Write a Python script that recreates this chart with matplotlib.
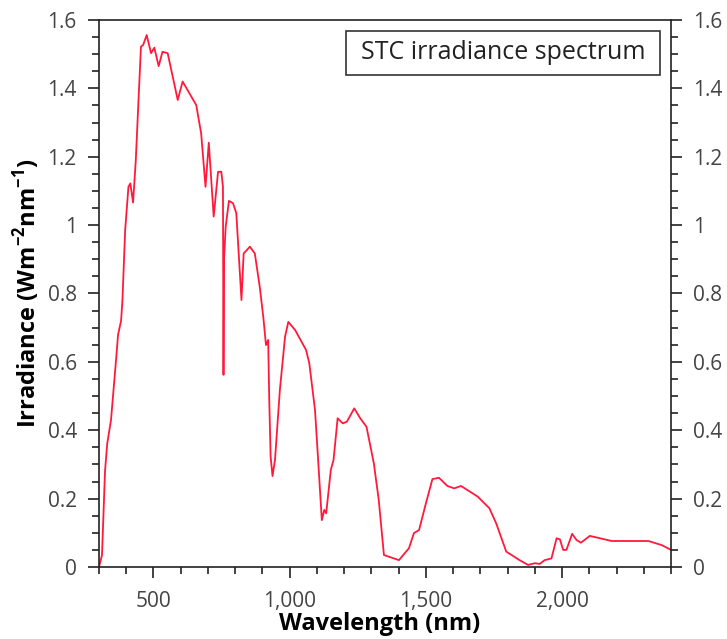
import matplotlib

matplotlib.use("Agg")
import matplotlib.pyplot as plt
from matplotlib.patches import Rectangle
from matplotlib.ticker import FuncFormatter, MultipleLocator

# STC irradiance spectrum
wavelength_nm = [
    300, 311, 322, 330, 344, 363, 370, 381, 386, 396, 408, 415, 425, 435,
    445, 454, 462, 475, 491, 503, 519, 533, 552, 589, 607, 657, 675, 691,
    703, 721, 737, 749, 755, 757, 759, 765, 777, 792, 804, 823, 831, 854,
    872, 890, 903, 913, 921, 925, 930, 937, 946, 964, 983, 995, 1020, 1060,
    1072, 1093, 1106, 1118, 1127, 1134, 1151, 1161, 1176, 1195, 1210, 1237,
    1259, 1282, 1309, 1327, 1346, 1401, 1438, 1456, 1475, 1500, 1524, 1548,
    1579, 1604, 1629, 1690, 1733, 1758, 1795, 1844, 1875, 1900, 1918, 1936,
    1961, 1980, 1992, 2004, 2016, 2037, 2053, 2069, 2102, 2182, 2317, 2366,
    2400,
]
irradiance = [
    0.0, 0.035, 0.28, 0.36, 0.43, 0.61, 0.68, 0.72, 0.78, 0.986, 1.112,
    1.122, 1.066, 1.19, 1.366, 1.522, 1.527, 1.556, 1.503, 1.519, 1.465,
    1.507, 1.503, 1.366, 1.42, 1.351, 1.268, 1.112, 1.241, 1.025, 1.156,
    1.156, 1.112, 0.562, 0.9, 0.995, 1.071, 1.064, 1.035, 0.781, 0.917,
    0.937, 0.917, 0.82, 0.732, 0.649, 0.664, 0.488, 0.323, 0.266, 0.313,
    0.518, 0.674, 0.717, 0.693, 0.635, 0.596, 0.459, 0.293, 0.137, 0.167,
    0.157, 0.284, 0.313, 0.435, 0.42, 0.425, 0.464, 0.435, 0.41, 0.303,
    0.196, 0.035, 0.02, 0.055, 0.099, 0.108, 0.186, 0.257, 0.261, 0.237,
    0.23, 0.237, 0.206, 0.172, 0.128, 0.045, 0.02, 0.006, 0.011, 0.009,
    0.02, 0.025, 0.084, 0.081, 0.05, 0.05, 0.097, 0.079, 0.071, 0.091,
    0.076, 0.076, 0.064, 0.05,
]

x_ticks = [500, 1000, 1500, 2000]
y_ticks = [0, 0.2, 0.4, 0.6, 0.8, 1.0, 1.2, 1.4, 1.6]

plt.rcParams["font.family"] = ["Open Sans", "DejaVu Sans"]
plt.rcParams["mathtext.fontset"] = "custom"
plt.rcParams["mathtext.bf"] = "Open Sans:bold"

fig = plt.figure(figsize=(7.27, 6.39), dpi=100)
ax = fig.add_axes([0.1362, 0.1127, 0.7868, 0.8560])

ax.plot(wavelength_nm, irradiance, color="#ff1a3c", linewidth=1.3)

ax.set_xlim(300, 2400)
ax.set_ylim(0, 1.6)

ax.set_xticks(x_ticks)
ax.xaxis.set_minor_locator(MultipleLocator(100))
ax.xaxis.set_major_formatter(FuncFormatter(lambda v, _: f"{v:,.0f}"))
ax.set_yticks(y_ticks)
ax.yaxis.set_minor_locator(MultipleLocator(0.05))
ax.yaxis.set_major_formatter(FuncFormatter(lambda v, _: f"{v:g}"))

ax.tick_params(which="both", direction="out", colors="#222222",
               labelcolor="#444444", labelsize=15, width=1.2,
               left=True, right=True, labelright=True, top=False)
ax.tick_params(which="major", length=8)
ax.tick_params(which="minor", length=5)
ax.tick_params(axis="x", which="major", pad=9)
ax.tick_params(axis="y", which="major", pad=8)

for side in ax.spines.values():
    side.set_color("#222222")
    side.set_linewidth(1.2)

ax.set_xlabel("Wavelength (nm)", fontsize=17, fontweight="bold")
ax.set_ylabel(r"Irradiance (Wm$^{\mathbf{-2}}$nm$^{\mathbf{-1}}$)",
              fontsize=17, fontweight="bold")
ax.xaxis.set_label_coords(0.49, -0.082)
ax.yaxis.set_label_coords(-0.1, 0.5)

# title box in the top right corner
ax.add_patch(Rectangle((0.4326, 0.8995), 0.5481, 0.0805,
                       transform=ax.transAxes, facecolor="white",
                       edgecolor="#333333", linewidth=1.2, zorder=3))
ax.text(0.7067, 0.9397, "STC irradiance spectrum", transform=ax.transAxes,
        ha="center", va="center", fontsize=18, color="#222222", zorder=4)

fig.savefig("out.png", dpi=100)
